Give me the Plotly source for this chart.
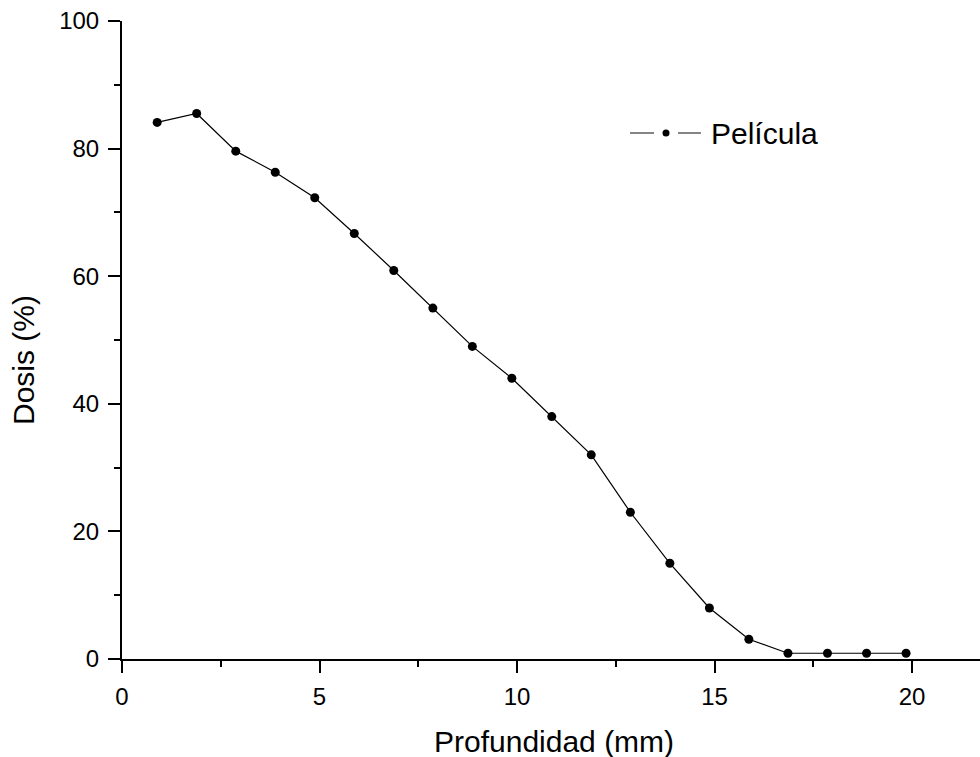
import plotly.graph_objects as go

profundidad = [0.89, 1.89, 2.88, 3.88, 4.88, 5.88, 6.88, 7.87, 8.87, 9.87,
               10.88, 11.88, 12.87, 13.87, 14.87, 15.87, 16.86, 17.86, 18.85, 19.85]
dosis = [84.1, 85.5, 79.6, 76.3, 72.3, 66.7, 60.9, 55.0, 49.0, 44.0,
         38.0, 32.0, 23.0, 15.0, 8.0, 3.1, 0.9, 0.9, 0.9, 0.9]
serie = "Película"

x_ticks = [0, 5, 10, 15, 20]
y_ticks = [0, 20, 40, 60, 80, 100]

W, H = 980, 757
ml, mr, mt, mb = 122, 0, 21, 98
pw, ph = W - ml - mr, H - mt - mb

font = "Liberation Sans, Arial, sans-serif"

fig = go.Figure()
fig.add_trace(go.Scatter(
    x=profundidad, y=dosis, mode="lines+markers", name=serie,
    line=dict(color="black", width=1.2),
    marker=dict(color="black", size=9),
    showlegend=False,
))

def px_x(p):
    return (p - ml) / pw

def px_y(p):
    return (H - mb - p) / ph

# legend drawn in Origin style: line - dot - line, then text
ly = px_y(133)
shapes = [
    dict(type="line", xref="paper", yref="paper", x0=px_x(630), x1=px_x(654),
         y0=ly, y1=ly, line=dict(color="#333", width=1.2)),
    dict(type="line", xref="paper", yref="paper", x0=px_x(678), x1=px_x(701),
         y0=ly, y1=ly, line=dict(color="#333", width=1.2)),
    dict(type="circle", xref="paper", yref="paper",
         x0=px_x(662.5), x1=px_x(669.5), y0=px_y(136.5), y1=px_y(129.5),
         fillcolor="black", line=dict(color="black", width=0)),
]

fig.update_layout(
    width=W, height=H,
    margin=dict(l=ml, r=mr, t=mt, b=mb),
    paper_bgcolor="white", plot_bgcolor="white",
    font=dict(family=font, color="black"),
    showlegend=False,
    shapes=shapes,
    xaxis=dict(range=[0, pw / 39.5], tickvals=x_ticks, ticks="outside",
               ticklen=12, tickwidth=2, tickcolor="black",
               showline=True, linewidth=2, linecolor="black",
               showgrid=False, zeroline=False,
               tickfont=dict(size=24, family=font),
               ticklabelstandoff=3,
               minor=dict(dtick=2.5, tick0=0, ticks="outside", ticklen=6,
                          tickwidth=2, tickcolor="black", showgrid=False)),
    yaxis=dict(range=[0, 100], tickvals=y_ticks, ticks="outside",
               ticklen=12, tickwidth=2, tickcolor="black",
               showline=True, linewidth=2, linecolor="black",
               showgrid=False, zeroline=False,
               tickfont=dict(size=24, family=font),
               ticklabelstandoff=4,
               minor=dict(dtick=10, tick0=0, ticks="outside", ticklen=6,
                          tickwidth=2, tickcolor="black", showgrid=False)),
    annotations=[
        dict(text="Profundidad (mm)", xref="paper", yref="paper",
             x=px_x(554), y=px_y(741), xanchor="center", yanchor="middle",
             showarrow=False, font=dict(size=30, family=font)),
        dict(text="Dosis (%)", xref="paper", yref="paper",
             x=px_x(24), y=px_y(360), xanchor="center", yanchor="middle",
             textangle=-90, showarrow=False, font=dict(size=30, family=font)),
        dict(text=serie, xref="paper", yref="paper",
             x=px_x(709), y=px_y(133), xanchor="left", yanchor="middle",
             showarrow=False, font=dict(size=30, family=font)),
    ],
)

fig.write_html("out.html")
